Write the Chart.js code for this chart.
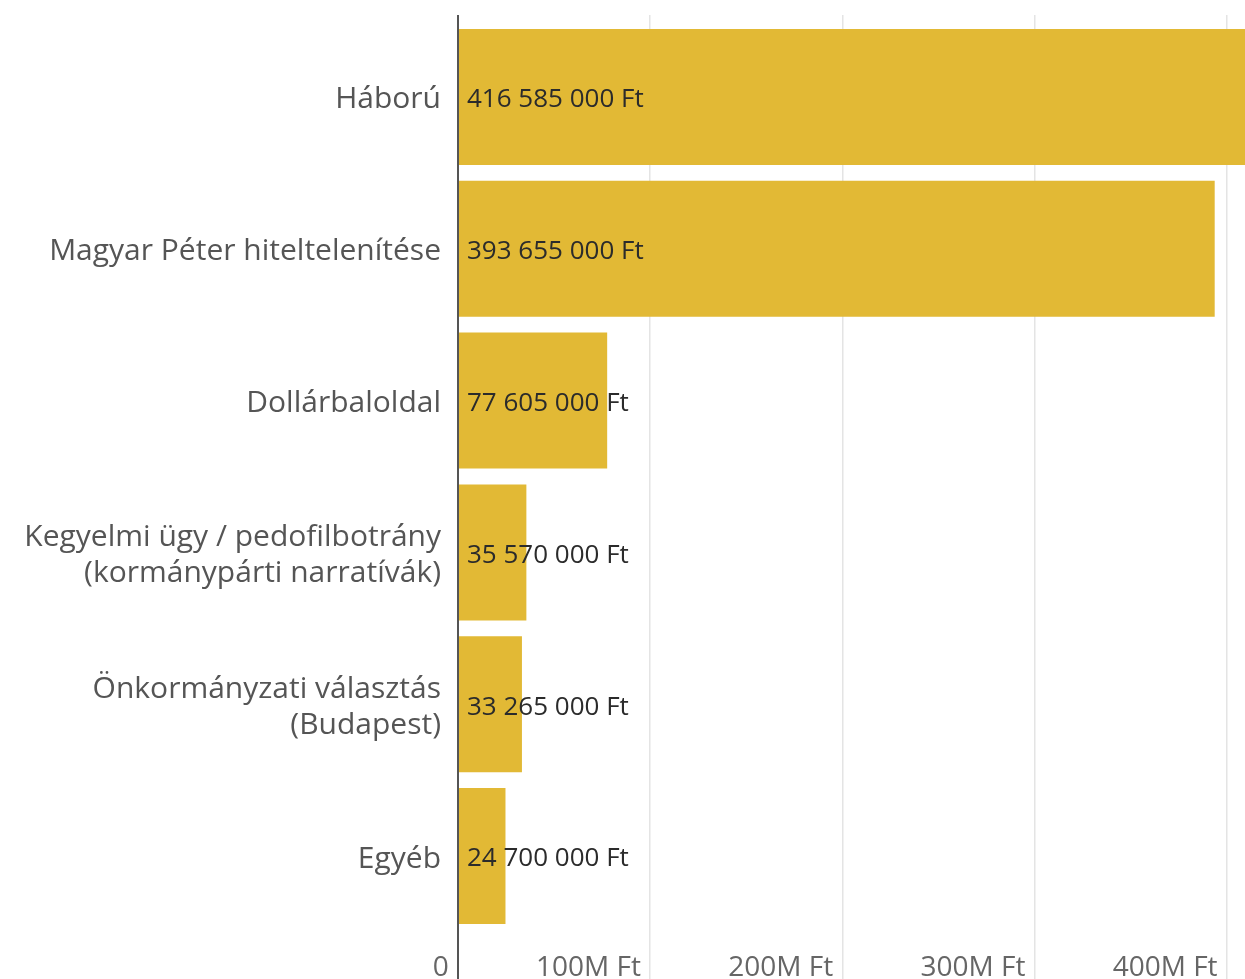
<!DOCTYPE html>
<html>
<head>
<meta charset="utf-8">
<script src="https://cdn.jsdelivr.net/npm/chart.js@4/dist/chart.umd.min.js"></script>
<style>
  html, body { margin: 0; padding: 0; background: #fff; overflow: hidden; }
  #wrap { position: absolute; left: 0; top: 0; width: 1340px; height: 1000px; }
</style>
</head>
<body>
<div id="wrap"><canvas id="c" width="1340" height="1000"></canvas></div>
<script>
const categories = [
  ["Háború"],
  ["Magyar Péter hiteltelenítése"],
  ["Dollárbaloldal"],
  ["Kegyelmi ügy / pedofilbotrány", "(kormánypárti narratívák)"],
  ["Önkormányzati választás", "(Budapest)"],
  ["Egyéb"]
];
const values = [416585000, 393655000, 77605000, 35570000, 33265000, 24700000];
const xTickValues = [0, 100000000, 200000000, 300000000, 400000000];
const xTickLabels = ["0", "100M Ft", "200M Ft", "300M Ft", "400M Ft"];

const FONT = "'Open Sans', 'Noto Sans', sans-serif";
const BAR = "#e2b935";
const GRID = "#e4e4e4";
const AXIS = "#555555";

function fmt(v) {
  return String(v).replace(/\B(?=(\d{3})+(?!\d))/g, " ") + " Ft";
}

const valueLabels = {
  id: "valueLabels",
  afterDatasetsDraw(chart) {
    const ctx = chart.ctx;
    const meta = chart.getDatasetMeta(0);
    ctx.save();
    ctx.font = "26px " + FONT;
    ctx.fillStyle = "#2b2b2b";
    ctx.textAlign = "left";
    ctx.textBaseline = "middle";
    meta.data.forEach((bar, i) => {
      ctx.fillText(fmt(values[i]), bar.base + 8, bar.y + 3);
    });
    ctx.restore();
  }
};

const tickIndex = v => xTickValues.indexOf(v);
const zeroPad = s => { s.paddingLeft = 0; s.paddingRight = 0; s.paddingTop = 0; s.paddingBottom = 0; };

new Chart(document.getElementById("c"), {
  type: "bar",
  data: {
    labels: categories,
    datasets: [{
      data: values,
      backgroundColor: BAR,
      borderWidth: 0,
      barPercentage: 0.896,
      categoryPercentage: 1
    }]
  },
  plugins: [valueLabels],
  options: {
    indexAxis: "y",
    responsive: false,
    animation: false,
    devicePixelRatio: 1,
    layout: { padding: { top: 15, right: 17, bottom: 21, left: 0 } },
    plugins: { legend: { display: false }, tooltip: { enabled: false } },
    scales: {
      x: {
        position: "bottom",
        min: 0,
        max: 450000000,
        afterBuildTicks: s => { s.ticks = xTickValues.map(v => ({ value: v })); },
        afterFit: s => { s.height = 47; zeroPad(s); },
        grid: {
          color: c => (c.tick && c.tick.value === 0) ? AXIS : GRID,
          lineWidth: c => (c.tick && c.tick.value === 0) ? 2 : 1.5,
          drawTicks: true,
          tickLength: 70
        },
        border: { display: false },
        ticks: {
          align: "end",
          padding: -51,
          color: "#666666",
          font: { family: FONT, size: 28 },
          callback: v => (tickIndex(v) >= 0 ? xTickLabels[tickIndex(v)] : "") + "\u2009\u2009"
        }
      },
      x2: {
        axis: "x",
        position: "top",
        min: 0,
        max: 450000000,
        afterBuildTicks: s => { s.ticks = xTickValues.map(v => ({ value: v })); },
        afterFit: s => { s.height = 6; zeroPad(s); },
        grid: {
          color: c => (c.tick && c.tick.value === 0) ? AXIS : GRID,
          lineWidth: c => (c.tick && c.tick.value === 0) ? 2 : 1.5,
          drawOnChartArea: false,
          drawTicks: true,
          tickLength: 6
        },
        border: { display: false },
        ticks: { display: false }
      },
      y: {
        z: 1,
        afterFit: s => { s.width = 458; zeroPad(s); },
        grid: { display: false, drawTicks: false },
        border: { display: true, color: AXIS, width: 2 },
        ticks: {
          padding: 17,
          labelOffset: 3,
          color: "#555555",
          font: { family: FONT, size: 30, lineHeight: 1.2 }
        }
      }
    }
  }
});
</script>
</body>
</html>
